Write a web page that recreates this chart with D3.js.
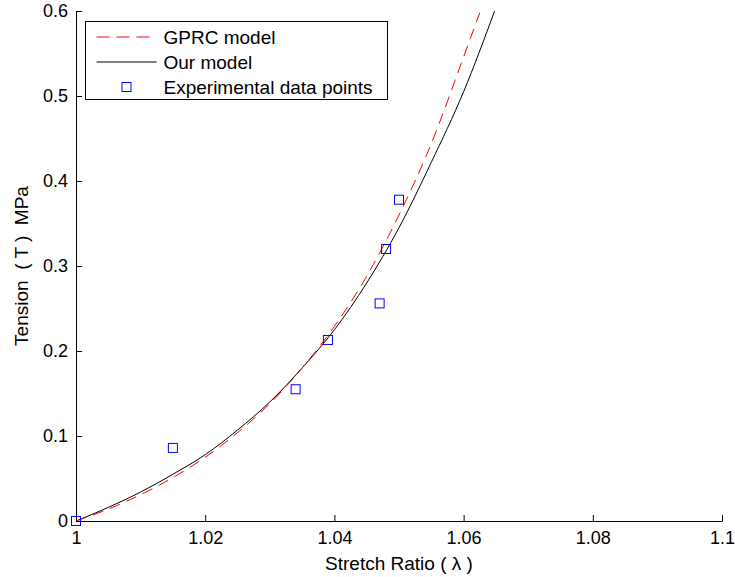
<!DOCTYPE html>
<html>
<head>
<meta charset="utf-8">
<script src="https://cdn.jsdelivr.net/npm/d3@7"></script>
<style>
  body { margin: 0; background: #fff; }
  text { font-family: "Liberation Sans", Arial, Helvetica, sans-serif; }
</style>
</head>
<body>
<div id="chart"></div>
<script>
// data
const expX = [1.000, 1.015, 1.034, 1.039, 1.047, 1.048, 1.050]
const expT = [0.000, 0.086, 0.155, 0.213, 0.256, 0.320, 0.378]

const ourX = [1.000, 1.005, 1.010, 1.015, 1.020, 1.025, 1.030, 1.035, 1.040, 1.045, 1.050, 1.055, 1.060, 1.0648]
const ourT = [0.000, 0.016, 0.034, 0.055, 0.078, 0.107, 0.140, 0.180, 0.225, 0.280, 0.345, 0.422, 0.505, 0.600]

const gprcX = [1.000, 1.005, 1.010, 1.015, 1.020, 1.025, 1.030, 1.035, 1.040, 1.045, 1.050, 1.055, 1.060, 1.0625]
const gprcT = [0.000, 0.014, 0.031, 0.051, 0.075, 0.104, 0.138, 0.180, 0.229, 0.288, 0.360, 0.444, 0.546, 0.598]

const xTicks = [1, 1.02, 1.04, 1.06, 1.08, 1.1]
const yTicks = [0, 0.1, 0.2, 0.3, 0.4, 0.5, 0.6]

const legendLabels = ["GPRC model", "Our model", "Experimental data points"]

// dimensions
const width = 735
const height = 577
const margin = { top: 11, right: 13, bottom: 56, left: 76 }
const boundedWidth = width - margin.left - margin.right
const boundedHeight = height - margin.top - margin.bottom

const svg = d3.select("#chart").append("svg")
    .attr("width", width)
    .attr("height", height)

const bounds = svg.append("g")
    .attr("transform", `translate(${margin.left},${margin.top})`)

const xScale = d3.scaleLinear()
    .domain([1, 1.1])
    .range([0, boundedWidth])

const yScale = d3.scaleLinear()
    .domain([0, 0.6])
    .range([boundedHeight, 0])

// axes, ticks pointing inward
bounds.append("g")
    .attr("transform", `translate(0,${boundedHeight})`)
    .call(d3.axisBottom(xScale)
        .tickValues(xTicks)
        .tickSize(-6)
        .tickSizeOuter(0)
        .tickPadding(10)
        .tickFormat(d => d3.format("")(+d.toFixed(2))))

bounds.append("g")
    .call(d3.axisLeft(yScale)
        .tickValues(yTicks)
        .tickSize(-6)
        .tickSizeOuter(0)
        .tickPadding(8)
        .tickFormat(d => d3.format("")(+d.toFixed(1))))

bounds.selectAll(".tick text")
    .attr("fill", "#000")
    .style("font-size", "18px")
bounds.selectAll(".domain, .tick line").attr("stroke", "#000")

// axis labels
svg.append("text")
    .attr("x", margin.left + boundedWidth / 2)
    .attr("y", 570)
    .attr("text-anchor", "middle")
    .style("font-size", "19px")
    .text("Stretch Ratio ( λ )")

svg.append("text")
    .attr("transform", `translate(28,${margin.top + boundedHeight / 2}) rotate(-90)`)
    .attr("text-anchor", "middle")
    .style("font-size", "19px")
    .style("white-space", "pre")
    .text("Tension  ( T )  MPa")

// curves
const lineGen = d3.line()
    .x(d => xScale(d[0]))
    .y(d => yScale(d[1]))
    .curve(d3.curveMonotoneX)

bounds.append("path")
    .datum(ourX.map((x, i) => [x, ourT[i]]))
    .attr("d", lineGen)
    .attr("fill", "none")
    .attr("stroke", "#000")
    .attr("stroke-width", 1)

bounds.append("path")
    .datum(gprcX.map((x, i) => [x, gprcT[i]]))
    .attr("d", lineGen)
    .attr("fill", "none")
    .attr("stroke", "#ff0000")
    .attr("stroke-width", 1)
    .attr("stroke-dasharray", "11,7")

// experimental squares
const sq = 9
bounds.selectAll("rect.exp")
    .data(expX.map((x, i) => [x, expT[i]]))
    .join("rect")
    .attr("class", "exp")
    .attr("x", d => xScale(d[0]) - sq / 2)
    .attr("y", d => yScale(d[1]) - sq / 2)
    .attr("width", sq)
    .attr("height", sq)
    .attr("fill", "none")
    .attr("stroke", "#0000ff")
    .attr("stroke-width", 1)

// legend
const legend = svg.append("g")
    .attr("transform", "translate(85.5,21.5)")

legend.append("rect")
    .attr("width", 302)
    .attr("height", 78)
    .attr("fill", "#fff")
    .attr("stroke", "#000")

legendLabels.forEach((label, i) => {
    const cy = 15.5 + i * 25
    if (i === 0) {
        legend.append("line")
            .attr("x1", 11).attr("x2", 71)
            .attr("y1", cy).attr("y2", cy)
            .attr("stroke", "#ff0000")
            .attr("stroke-dasharray", "13,7")
    } else if (i === 1) {
        legend.append("line")
            .attr("x1", 11).attr("x2", 71)
            .attr("y1", cy).attr("y2", cy)
            .attr("stroke", "#000")
    } else {
        legend.append("rect")
            .attr("x", 41 - sq / 2).attr("y", cy - sq / 2)
            .attr("width", sq).attr("height", sq)
            .attr("fill", "none")
            .attr("stroke", "#0000ff")
    }
    legend.append("text")
        .attr("x", 78)
        .attr("y", cy)
        .attr("dy", "0.35em")
        .style("font-size", "19px")
        .text(label)
})
</script>
</body>
</html>
